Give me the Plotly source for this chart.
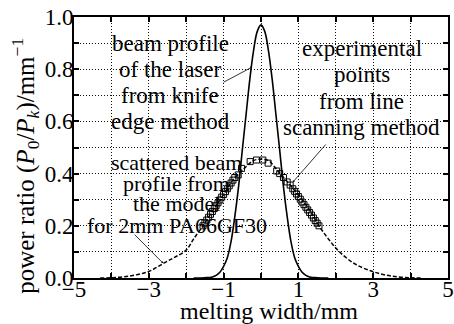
import plotly.graph_objects as go

# knife-edge beam profile (solid)
x_beam = [-1.8, -1.5, -1.3, -1.2, -1.1, -1.0, -0.9, -0.8, -0.7, -0.6, -0.5, -0.4, -0.3, -0.2, -0.1, 0.0,
          0.1, 0.2, 0.3, 0.4, 0.5, 0.6, 0.7, 0.8, 0.9, 1.0, 1.1, 1.2, 1.3, 1.5, 1.8]
y_beam = [0.0, 0.001, 0.004, 0.01, 0.022, 0.045, 0.078, 0.14, 0.235, 0.35, 0.49, 0.625, 0.76, 0.87, 0.945, 0.97,
          0.945, 0.87, 0.76, 0.625, 0.49, 0.35, 0.235, 0.14, 0.078, 0.045, 0.022, 0.01, 0.004, 0.001, 0.0]

# scattered beam profile from model (dashed)
x_model = [-4.3, -4.0, -3.5, -3.0, -2.6, -2.3, -2.0, -1.8, -1.55, -1.28, -1.0, -0.75, -0.45, -0.2, 0.0,
           0.2, 0.45, 0.78, 1.04, 1.3, 1.55, 1.8, 2.1, 2.5, 3.0, 3.5, 4.0, 4.3]
y_model = [0.0, 0.001, 0.008, 0.025, 0.057, 0.08, 0.107, 0.15, 0.2, 0.26, 0.32, 0.375, 0.42, 0.45, 0.455,
           0.45, 0.41, 0.356, 0.31, 0.26, 0.2, 0.15, 0.1, 0.055, 0.024, 0.007, 0.001, 0.0]

# experimental points (open squares)
x_exp = [-1.55, -1.5, -1.45, -1.4, -1.35, -1.3, -1.25, -1.2, -1.15, -1.1, -1.05, -1.0, -0.95, -0.9, -0.85,
         -0.8, -0.75, -0.7, -0.61, -0.52, -0.29, -0.12, 0.05, 0.19, 0.42, 0.5, 0.6, 0.7, 0.78, 0.85, 0.9,
         0.95, 1.0, 1.05, 1.1, 1.15, 1.2, 1.25, 1.3, 1.35, 1.4, 1.45, 1.5, 1.55]
y_exp = [0.2, 0.211, 0.222, 0.233, 0.244, 0.255, 0.266, 0.277, 0.288, 0.299, 0.31, 0.32, 0.331, 0.342, 0.353,
         0.364, 0.375, 0.385, 0.395, 0.42, 0.446, 0.452, 0.452, 0.44, 0.41, 0.4, 0.385, 0.368, 0.356, 0.342,
         0.332, 0.322, 0.312, 0.302, 0.291, 0.281, 0.271, 0.261, 0.251, 0.241, 0.23, 0.22, 0.21, 0.2]

x_ticks = [-5, -4, -3, -2, -1, 0, 1, 2, 3, 4, 5]
x_ticktext = ["−5", "", "−3", "", "−1", "", "1", "", "3", "", "5"]
y_ticks = [0.0, 0.1, 0.2, 0.3, 0.4, 0.5, 0.6, 0.7, 0.8, 0.9, 1.0]
y_ticktext = ["0.0", "", "0.2", "", "0.4", "", "0.6", "", "0.8", "", "1.0"]

FONT = "Liberation Serif"
fig = go.Figure()
fig.add_trace(go.Scatter(x=x_model, y=y_model, mode="lines", line=dict(color="black", width=1.5, dash="4px,2px", shape="spline")))
fig.add_trace(go.Scatter(x=x_beam, y=y_beam, mode="lines", line=dict(color="black", width=1.6, shape="spline")))
fig.add_trace(go.Scatter(x=x_exp, y=y_exp, mode="markers",
                         marker=dict(symbol="square-open", size=6, color="black", line=dict(width=1))))

def txt(x, y, s, size=23):
    fig.add_annotation(x=x, y=y, text=s, showarrow=False, xanchor="center", yanchor="middle",
                       font=dict(family=FONT, size=size, color="black"))

for s, y in zip(["beam profile", "of the laser", "from knife", "edge method"], [0.9, 0.8, 0.7, 0.6]):
    txt(-2.43, y, s)
for s, y in zip(["experimental", "points", "from line", "scanning method"], [0.88, 0.778, 0.675, 0.575]):
    txt(2.7, y, s)
for s, y in zip(["scattered beam", "profile from", "the model", "for 2mm PA66GF30"], [0.444, 0.364, 0.287, 0.203]):
    txt(-2.25, y, s, size=22)

def arrow(x0, y0, x1, y1):
    fig.add_annotation(x=x1, y=y1, ax=x0, ay=y0, xref="x", yref="y", axref="x", ayref="y", text="",
                       showarrow=True, arrowhead=1, arrowsize=0.6, arrowwidth=0.8, arrowcolor="black")

arrow(-1.04, 0.747, -0.24, 0.808)
arrow(1.765, 0.517, 0.856, 0.368)
arrow(-3.42, 0.172, -2.62, 0.057)

# y-axis title as rotated text
fig.add_annotation(xref="paper", yref="paper", x=-0.131, y=0.43, xanchor="center", yanchor="middle",
                   text="power ratio (<i>P</i><sub>0</sub>/<i>P<sub>k</sub></i>)/mm<sup>−1</sup>",
                   textangle=-90, showarrow=False, font=dict(family=FONT, size=25, color="black"))
# x-axis title
fig.add_annotation(xref="paper", yref="paper", x=0.522, y=-0.126, xanchor="center", yanchor="middle",
                   text="melting width/mm", showarrow=False, font=dict(family=FONT, size=24, color="black"))

axis_common = dict(showline=True, linewidth=2, linecolor="black", mirror="ticks", ticks="inside",
                   ticklen=5, tickwidth=2, tickcolor="black", showgrid=True, gridcolor="#111",
                   gridwidth=1, griddash="1px,2px", zeroline=False, automargin=False,
                   tickfont=dict(family=FONT, size=23, color="black"))
fig.update_xaxes(range=[-5, 5], tickvals=x_ticks, ticktext=x_ticktext, ticklabelstandoff=-11, **axis_common)
fig.update_yaxes(range=[0, 1], tickvals=y_ticks, ticktext=y_ticktext, ticklabelstandoff=-6, **axis_common)
fig.update_layout(width=454, height=324, margin=dict(l=74, r=6, t=17, b=46),
                  plot_bgcolor="white", paper_bgcolor="white", showlegend=False)
fig.write_html("out.html")
